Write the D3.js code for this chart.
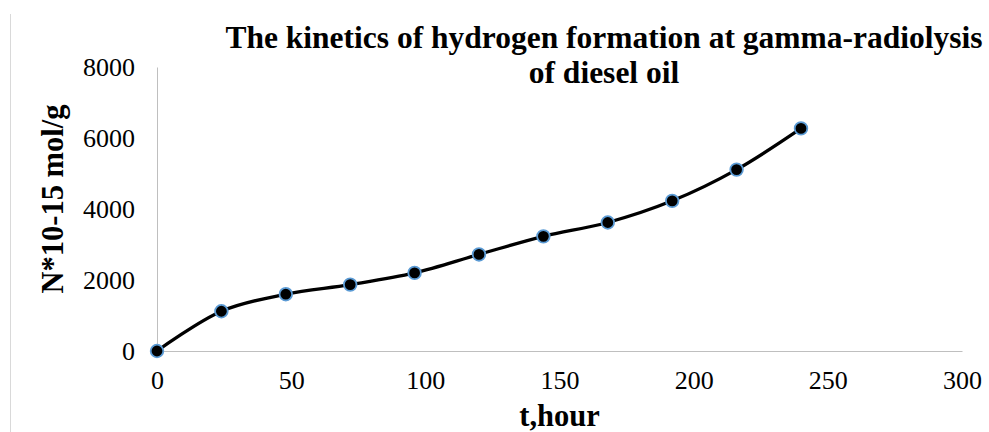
<!DOCTYPE html>
<html>
<head>
<meta charset="utf-8">
<script src="https://cdn.jsdelivr.net/npm/d3@7"></script>
</head>
<body style="margin:0; background:#fff">
<script>
const hours = [0, 24, 48, 72, 96, 120, 144, 168, 192, 216, 240];
const hydrogen = [0, 1120, 1600, 1870, 2200, 2720, 3230, 3620, 4230, 5110, 6270];
const xTicks = [0, 50, 100, 150, 200, 250, 300];
const yTicks = [0, 2000, 4000, 6000, 8000];

const width = 989, height = 432;
const margin = { top: 67, right: 27, bottom: 81, left: 157 };
const serif = '"Liberation Serif"';

const svg = d3.select('body').append('svg')
  .attr('width', width)
  .attr('height', height)
  .style('display', 'block')
  .style('font-family', serif);

// faint chart-area border on the left
svg.append('line')
  .attr('x1', 10.5).attr('x2', 10.5)
  .attr('y1', 14).attr('y2', height)
  .attr('stroke', '#d9d9d9');

const x = d3.scaleLinear().domain([0, 300]).range([margin.left, width - margin.right]);
const y = d3.scaleLinear().domain([0, 8000]).range([height - margin.bottom, margin.top]);

// X axis
const xAxis = svg.append('g')
  .attr('transform', `translate(0,${y(0)})`)
  .call(d3.axisBottom(x).tickValues(xTicks).tickFormat(d3.format('d')).tickSize(0).tickPadding(20))
  .attr('font-family', null)
  .attr('font-size', null);
xAxis.select('.domain').attr('stroke', '#bfbfbf');
xAxis.selectAll('text')
  .style('font-family', serif)
  .style('font-size', '26px')
  .attr('fill', '#000');

// Y axis
const yAxis = svg.append('g')
  .attr('transform', `translate(${x(0)},0)`)
  .call(d3.axisLeft(y).tickValues(yTicks).tickFormat(d3.format('d')).tickSize(0).tickPadding(22))
  .attr('font-family', null)
  .attr('font-size', null);
yAxis.select('.domain').attr('stroke', '#bfbfbf');
yAxis.selectAll('text')
  .style('font-family', serif)
  .style('font-size', '26px')
  .attr('fill', '#000');

// the curve
const pts = hours.map((h, i) => [h, hydrogen[i]]);
const line = d3.line()
  .x(d => x(d[0]))
  .y(d => y(d[1]))
  .curve(d3.curveCatmullRom.alpha(0.5));

svg.append('path')
  .datum(pts)
  .attr('fill', 'none')
  .attr('stroke', '#000')
  .attr('stroke-width', 3.3)
  .attr('d', line);

svg.selectAll('.pt')
  .data(pts)
  .enter()
  .append('circle')
  .attr('class', 'pt')
  .attr('cx', d => x(d[0]))
  .attr('cy', d => y(d[1]))
  .attr('r', 6.3)
  .attr('fill', '#000')
  .attr('stroke', '#5b9bd5')
  .attr('stroke-width', 1.8);

// titles
const title = svg.append('text')
  .attr('text-anchor', 'middle')
  .style('font-family', serif)
  .style('font-weight', 'bold')
  .style('font-size', '31.5px');
title.append('tspan').attr('x', 604).attr('y', 48)
  .text('The kinetics of hydrogen formation at gamma-radiolysis');
title.append('tspan').attr('x', 604).attr('y', 83)
  .text('of diesel oil');

svg.append('text')
  .attr('x', (x(0) + x(300)) / 2)
  .attr('y', 426)
  .attr('text-anchor', 'middle')
  .style('font-family', serif)
  .style('font-weight', 'bold')
  .style('font-size', '30.5px')
  .text('t,hour');

svg.append('text')
  .attr('transform', `translate(63,199) rotate(-90)`)
  .attr('text-anchor', 'middle')
  .style('font-family', serif)
  .style('font-weight', 'bold')
  .style('font-size', '30.5px')
  .text('N*10-15 mol/g');
</script>
</body>
</html>
